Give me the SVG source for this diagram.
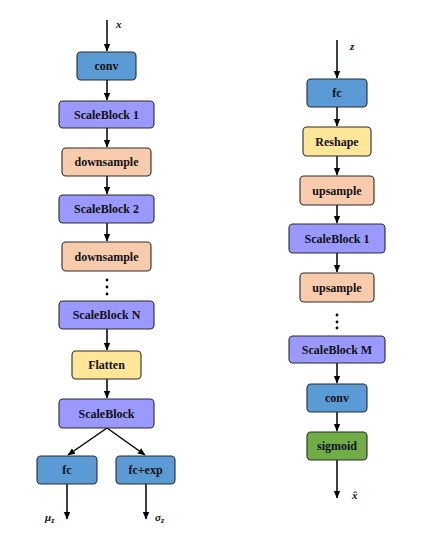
<svg xmlns="http://www.w3.org/2000/svg" width="447" height="538" viewBox="0 0 447 538">
<style>
.n{stroke:#2b2b2b;stroke-width:1.1}
.t{font-family:"Liberation Serif","Times New Roman",serif;font-weight:bold;font-size:12px;fill:#111;text-anchor:middle;dominant-baseline:central}
.l{font-family:"Liberation Serif","Times New Roman",serif;font-weight:bold;font-style:italic;font-size:11px;fill:#111}
.c{stroke:#000;stroke-width:1.5;fill:none;marker-end:url(#ah)}
.blue{fill:#5B9BD5}.purple{fill:#9999FF}.peach{fill:#F8CBAD}.yellow{fill:#FFE699}.green{fill:#70AD47}
</style>
<defs>
<marker id="ah" markerWidth="8" markerHeight="8" refX="7" refY="4" orient="auto" markerUnits="userSpaceOnUse">
<path d="M0,0.8 L7.5,4 L0,7.2 Z" fill="#000"/>
</marker>
</defs>
<rect width="447" height="538" fill="#fff"/>
<g id="connectors">
<path class="c" d="M107,20 V51"/>
<path class="c" d="M107,80 V100"/>
<path class="c" d="M107,128 V147"/>
<path class="c" d="M107,176 V194"/>
<path class="c" d="M107,223 V241"/>
<path class="c" d="M107,329 V350"/>
<path class="c" d="M107,379 V398"/>
<path class="c" d="M107,428 L68,455"/>
<path class="c" d="M107,428 L145,455"/>
<path class="c" d="M67,484 V519"/>
<path class="c" d="M146,484 V519"/>
<path class="c" d="M337,40 V78"/>
<path class="c" d="M337,107 V126"/>
<path class="c" d="M337,156 V175"/>
<path class="c" d="M337,205 V223"/>
<path class="c" d="M337,253 V272"/>
<path class="c" d="M337,363 V383"/>
<path class="c" d="M337,412 V431"/>
<path class="c" d="M337,460 V498"/>
</g>
<g id="dots" fill="#000">
<circle cx="107" cy="280" r="1.4"/><circle cx="107" cy="287" r="1.4"/><circle cx="107" cy="294" r="1.4"/>
<circle cx="337" cy="315" r="1.4"/><circle cx="337" cy="322" r="1.4"/><circle cx="337" cy="328" r="1.4"/>
</g>
<g id="labels">
<text class="l" x="116" y="28">x</text>
<text class="l" x="45" y="521">μ<tspan font-size="8" dy="2">z</tspan></text>
<text class="l" x="155" y="521">σ<tspan font-size="8" dy="2">z</tspan></text>
<text class="l" x="350" y="50">z</text>
<text class="l" x="352" y="499">x̂</text>
</g>
<g id="enc-conv"><rect class="n blue" x="77" y="52" width="59" height="28" rx="4"/><text class="t" x="106.5" y="66">conv</text></g>
<g id="enc-sb1"><rect class="n purple" x="59" y="101" width="95" height="27" rx="4"/><text class="t" x="106.5" y="114.5">ScaleBlock 1</text></g>
<g id="enc-down1"><rect class="n peach" x="62" y="148" width="89" height="28" rx="4"/><text class="t" x="106.5" y="162">downsample</text></g>
<g id="enc-sb2"><rect class="n purple" x="59" y="195" width="95" height="28" rx="4"/><text class="t" x="106.5" y="209">ScaleBlock 2</text></g>
<g id="enc-down2"><rect class="n peach" x="62" y="242" width="89" height="29" rx="4"/><text class="t" x="106.5" y="256.5">downsample</text></g>
<g id="enc-sbN"><rect class="n purple" x="59" y="301" width="95" height="28" rx="4"/><text class="t" x="106.5" y="315">ScaleBlock N</text></g>
<g id="enc-flatten"><rect class="n yellow" x="72" y="351" width="69" height="28" rx="4"/><text class="t" x="106.5" y="365">Flatten</text></g>
<g id="enc-sb"><rect class="n purple" x="59" y="399" width="95" height="29" rx="4"/><text class="t" x="106.5" y="413.5">ScaleBlock</text></g>
<g id="enc-fc"><rect class="n blue" x="37" y="456" width="60" height="28" rx="4"/><text class="t" x="67" y="470">fc</text></g>
<g id="enc-fcexp"><rect class="n blue" x="116" y="456" width="59" height="28" rx="4"/><text class="t" x="145.5" y="470">fc+exp</text></g>
<g id="dec-fc"><rect class="n blue" x="307" y="79" width="60" height="28" rx="4"/><text class="t" x="337" y="93">fc</text></g>
<g id="dec-reshape"><rect class="n yellow" x="303" y="127" width="68" height="29" rx="4"/><text class="t" x="337" y="141.5">Reshape</text></g>
<g id="dec-up1"><rect class="n peach" x="300" y="176" width="74" height="29" rx="4"/><text class="t" x="337" y="190.5">upsample</text></g>
<g id="dec-sb1"><rect class="n purple" x="289" y="224" width="96" height="29" rx="4"/><text class="t" x="337" y="238.5">ScaleBlock 1</text></g>
<g id="dec-up2"><rect class="n peach" x="300" y="273" width="74" height="29" rx="4"/><text class="t" x="337" y="287.5">upsample</text></g>
<g id="dec-sbM"><rect class="n purple" x="289" y="336" width="96" height="27" rx="4"/><text class="t" x="337" y="349.5">ScaleBlock M</text></g>
<g id="dec-conv"><rect class="n blue" x="307" y="384" width="60" height="28" rx="4"/><text class="t" x="337" y="398">conv</text></g>
<g id="dec-sigmoid"><rect class="n green" x="307" y="432" width="60" height="28" rx="4"/><text class="t" x="337" y="446">sigmoid</text></g>
</svg>
